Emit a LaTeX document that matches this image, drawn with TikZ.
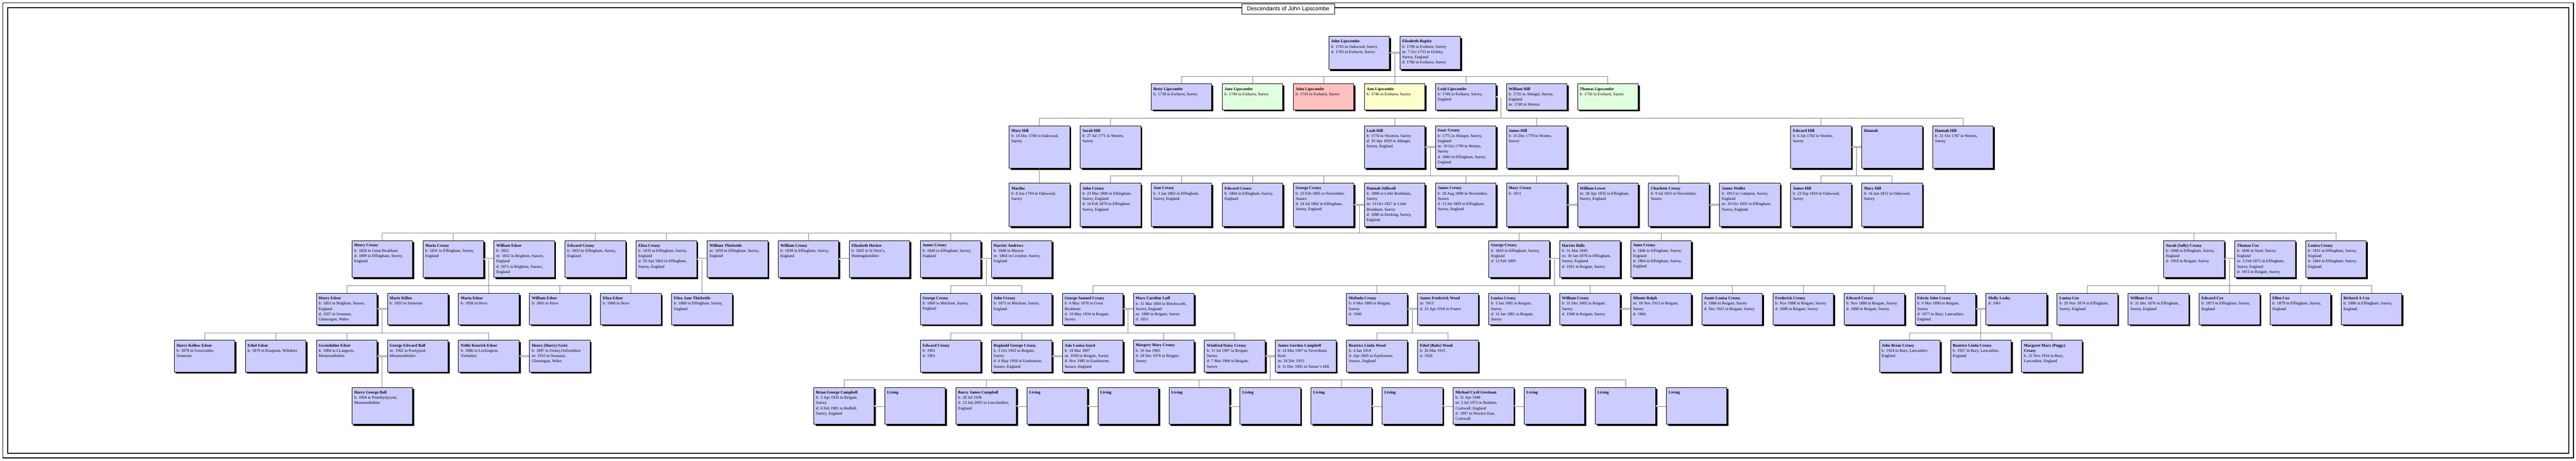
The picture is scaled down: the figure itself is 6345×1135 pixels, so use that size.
\documentclass[tikz,border=0pt]{standalone}
\usepackage{fontspec}
\setmainfont{Liberation Serif}
\setsansfont{Liberation Sans}
\usetikzlibrary{shadows, calc}
\definecolor{boxblue}{RGB}{204,204,255}
\definecolor{boxgreen}{RGB}{224,255,224}
\definecolor{boxpink}{RGB}{255,192,192}
\definecolor{boxyellow}{RGB}{255,255,204}
\definecolor{linegray}{RGB}{128,128,128}
\tikzset{
	person/.style={
		rectangle,
		anchor=north west,
		minimum width=149pt,
		minimum height=#1pt,
		inner sep=0pt,
		draw=black,
		line width=1.2pt,
		fill=boxblue,
		drop shadow={shadow xshift=4pt, shadow yshift=-4pt, fill=black, opacity=1}
	},
	info/.style={
		anchor=north west,
		align=left,
		inner xsep=6pt,
		inner ysep=9pt,
		font=\fontsize{10}{13}\selectfont
	},
	titlebox/.style={
		rectangle,
		minimum width=228pt,
		minimum height=26pt,
		inner sep=0pt,
		draw=black,
		line width=1.2pt,
		fill=white,
		font=\sffamily\fontsize{14}{16}\selectfont
	},
	chartframe/.style={draw=black, line width=2.3pt},
	link/.style={draw=linegray, line width=0.9pt},
	wed/.style={draw=linegray, line width=0.9pt, double=white, double distance=1.8pt}
}

\begin{document}
\begin{tikzpicture}[x=1pt, y=-1pt]
\useasboundingbox (0,0) rectangle (6345,1135);
\draw [chartframe] (7,7) rectangle (6339,1128);
\draw [chartframe] (19,19) rectangle (6327,1117);
\node (title) [titlebox] at (3173,22) {Descendants of John Lipscombe};

\begin{scope}[x=43.75pt, xshift=35pt]
\node[person=81, label={[info]north west:{\textbf{John Lipscombe}\\b: 1705 in Oakwood, Surrey\\d: 1783 in Ewhurst, Surrey}}] (jlipscombe) at (74,89) {};
\node[person=81, label={[info]north west:{\textbf{Elizabeth Rapley}\\b: 1709 in Ewhurst, Surrey\\m: 7 Oct 1733 in Ockley,\\Surrey, England\\d: 1760 in Ewhurst, Surrey}}] (erapley) at (78,89) {};

\node[person=64, label={[info]north west:{\textbf{Betty Lipscombe}\\b: 1738 in Ewhurst, Surrey}}] (blipscombe) at (64,206) {};
\node[person=64, fill=boxgreen, label={[info]north west:{\textbf{Jane Lipscombe}\\b: 1740 in Ewhurst, Surrey}}] (jalipscombe) at (68,206) {};
\node[person=64, fill=boxpink, label={[info]north west:{\textbf{John Lipscombe}\\b: 1743 in Ewhurst, Surrey}}] (jolipscombe) at (72,206) {};
\node[person=64, fill=boxyellow, label={[info]north west:{\textbf{Ann Lipscombe}\\b: 1746 in Ewhurst, Surrey}}] (alipscombe) at (76,206) {};
\node[person=64, label={[info]north west:{\textbf{Leah Lipscombe}\\b: 1748 in Ewhurst, Surrey,\\England}}] (llipscombe) at (80,206) {};
\node[person=64, label={[info]north west:{\textbf{William Hill}\\b: 1735 in Abinger, Surrey,\\England\\m: 1769 in Wotton}}] (whill) at (84,206) {};
\node[person=64, fill=boxgreen, label={[info]north west:{\textbf{Thomas Lipscombe}\\b: 1750 in Ewhurst, Surrey}}] (tlipscombe) at (88,206) {};

\node[person=105, label={[info]north west:{\textbf{Mary Hill}\\b: 10 Dec 1769 in Oakwood,\\Surrey}}] (mahill) at (56,309) {};
\node[person=105, label={[info]north west:{\textbf{Sarah Hill}\\b: 27 Jul 1771 in Wotten,\\Surrey}}] (sahill) at (60,309) {};
\node[person=105, label={[info]north west:{\textbf{Leah Hill}\\b: 1774 in Wootton, Surrey\\d: 19 Apr 1859 in Abinger,\\Surrey, England}}] (lehill) at (76,309) {};
\node[person=105, label={[info]north west:{\textbf{Isaac Creasy}\\b: 1775 in Abinger, Surrey,\\England\\m: 19 Oct 1799 in Wotten,\\Surrey\\d: 1840 in Effingham, Surrey,\\England}}] (icreasy) at (80,309) {};
\node[person=105, label={[info]north west:{\textbf{James Hill}\\b: 25 Dec 1779 in Wotten,\\Surrey}}] (jahill) at (84,309) {};
\node[person=105, label={[info]north west:{\textbf{Edward Hill}\\b: 6 Jan 1782 in Wotten,\\Surrey}}] (edhill) at (100,309) {};
\node[person=105, label={[info]north west:{\textbf{Hannah}}}] (hannah) at (104,309) {};
\node[person=105, label={[info]north west:{\textbf{Hannah Hill}\\b: 21 Oct 1787 in Wotten,\\Surrey}}] (hahill) at (108,309) {};

\node[person=106, label={[info]north west:{\textbf{Martha}\\b: 8 Jun 1794 in Oakwood,\\Surrey}}] (martha) at (56,451) {};
\node[person=106, label={[info]north west:{\textbf{John Creasy}\\b: 23 Mar 1800 in Effingham,\\Surrey, England\\d: 16 Feb 1870 in Effingham,\\Surrey, England}}] (jocreasy) at (60,451) {};
\node[person=106, label={[info]north west:{\textbf{Ann Creasy}\\b: 3 Jan 1802 in Effingham,\\Surrey, England}}] (ancreasy) at (64,451) {};
\node[person=106, label={[info]north west:{\textbf{Edward Creasy}\\b: 1804 in Effingham, Surrey,\\England}}] (edcreasy) at (68,451) {};
\node[person=106, label={[info]north west:{\textbf{George Creasy}\\b: 23 Feb 1805 in Newtimber,\\Sussex\\d: 24 Jul 1862 in Effingham,\\Surrey, England}}] (gecreasy) at (72,451) {};
\node[person=106, label={[info]north west:{\textbf{Hannah Stillwell}\\b: 1808 in Little Bookham,\\Surrey\\m: 14 Oct 1827 in Little\\Bookham, Surrey\\d: 1886 in Dorking, Surrey,\\England}}] (hstillwell) at (76,451) {};
\node[person=106, label={[info]north west:{\textbf{James Creasy}\\b: 28 Aug 1808 in Newtimber,\\Sussex\\d: 13 Jul 1829 in Effingham,\\Surrey, England}}] (jacreasy) at (80,451) {};
\node[person=106, label={[info]north west:{\textbf{Mary Creasy}\\b: 1811}}] (macreasy) at (84,451) {};
\node[person=106, label={[info]north west:{\textbf{William Lewer}\\m: 28 Apr 1832 in Effingham,\\Surrey, England}}] (wlewer) at (88,451) {};
\node[person=106, label={[info]north west:{\textbf{Charlotte Creasy}\\b: 9 Jul 1815 in Newtimber,\\Sussex}}] (chcreasy) at (92,451) {};
\node[person=106, label={[info]north west:{\textbf{James Waller}\\b: 1813 in Compton, Surrey,\\England\\m: 10 Oct 1835 in Effingham,\\Surrey, England}}] (jwaller) at (96,451) {};
\node[person=106, label={[info]north west:{\textbf{James Hill}\\b: 23 Sep 1810 in Oakwood,\\Surrey}}] (jahill2) at (100,451) {};
\node[person=106, label={[info]north west:{\textbf{Mary Hill}\\b: 16 Jun 1812 in Oakwood,\\Surrey}}] (mahill2) at (104,451) {};

\node[person=91, label={[info]north west:{\textbf{Henry Creasy}\\b: 1828 in Great Bookham\\d: 1889 in Effingham, Surrey,\\England}}] (hecreasy) at (19,592) {};
\node[person=91, label={[info]north west:{\textbf{Maria Creasy}\\b: 1831 in Effingham, Surrey,\\England}}] (mrcreasy) at (23,592) {};
\node[person=91, label={[info]north west:{\textbf{William Edsor}\\b: 1825\\m: 1852 in Brighton, Sussex,\\England\\d: 1871 in Brighton, Sussex,\\England}}] (wiedsor) at (27,592) {};
\node[person=91, label={[info]north west:{\textbf{Edward Creasy}\\b: 1833 in Effingham, Surrey,\\England}}] (edcreasy2) at (31,592) {};
\node[person=91, label={[info]north west:{\textbf{Eliza Creasy}\\b: 1835 in Effingham, Surrey,\\England\\d: 20 Apr 1862 in Effingham,\\Surrey, England}}] (elcreasy) at (35,592) {};
\node[person=91, label={[info]north west:{\textbf{William Thirkettle}\\m: 1859 in Effingham, Surrey,\\England}}] (wthirkettle) at (39,592) {};
\node[person=91, label={[info]north west:{\textbf{William Creasy}\\b: 1838 in Effingham, Surrey,\\England}}] (wicreasy) at (43,592) {};
\node[person=91, label={[info]north west:{\textbf{Elizabeth Hocker}\\b: 1843 in St Neot's,\\Huntingdonshire}}] (ehocker) at (47,592) {};
\node[person=91, label={[info]north west:{\textbf{James Creasy}\\b: 1840 in Effingham, Surrey,\\England}}] (jacreasy2) at (51,592) {};
\node[person=91, label={[info]north west:{\textbf{Harriet Andrews}\\b: 1840 in Merton\\m: 1864 in Croydon, Surrey,\\England}}] (handrews) at (55,592) {};
\node[person=91, label={[info]north west:{\textbf{George Creasy}\\b: 1843 in Effingham, Surrey,\\England\\d: 12 Feb 1893}}] (gecreasy2) at (83,592) {};
\node[person=91, label={[info]north west:{\textbf{Harriet Balls}\\b: 31 Mar 1849\\m: 30 Jan 1878 in Effingham,\\Surrey, England\\d: 1921 in Reigate, Surrey}}] (hballs) at (87,592) {};
\node[person=91, label={[info]north west:{\textbf{Anne Creasy}\\b: 1846 in Effingham, Surrey,\\England\\d: 1864 in Effingham, Surrey,\\England}}] (ancreasy2) at (91,592) {};
\node[person=91, label={[info]north west:{\textbf{Sarah (Sally) Creasy}\\b: 1848 in Effingham, Surrey,\\England\\d: 1918 in Reigate, Surrey}}] (sacreasy) at (121,592) {};
\node[person=91, label={[info]north west:{\textbf{Thomas Cox}\\b: 1846 in Send, Surrey,\\England\\m: 3 Feb 1872 in Effingham,\\Surrey, England\\d: 1915 in Reigate, Surrey}}] (thcox) at (125,592) {};
\node[person=91, label={[info]north west:{\textbf{Louisa Creasy}\\b: 1851 in Effingham, Surrey,\\England\\d: 1864 in Effingham, Surrey,\\England}}] (locreasy) at (129,592) {};

\node[person=77, label={[info]north west:{\textbf{Henry Edsor}\\b: 1855 in Brighton, Sussex,\\England\\d: 1927 in Swansea,\\Glamorgan, Wales}}] (heedsor) at (17,722) {};
\node[person=77, label={[info]north west:{\textbf{Marie Killen}\\b: 1855 in Somerset}}] (mkillen) at (21,722) {};
\node[person=77, label={[info]north west:{\textbf{Maria Edsor}\\b: 1858 in Hove}}] (maedsor) at (25,722) {};
\node[person=77, label={[info]north west:{\textbf{William Edsor}\\b: 1865 in Hove}}] (wiedsor2) at (29,722) {};
\node[person=77, label={[info]north west:{\textbf{Eliza Edsor}\\b: 1868 in Hove}}] (eledsor) at (33,722) {};
\node[person=77, label={[info]north west:{\textbf{Eliza Jane Thirkettle}\\b: 1860 in Effingham, Surrey,\\England}}] (ejthirkettle) at (37,722) {};
\node[person=77, label={[info]north west:{\textbf{George Creasy}\\b: 1869 in Mitcham, Surrey,\\England}}] (gecreasy3) at (51,722) {};
\node[person=77, label={[info]north west:{\textbf{John Creasy}\\b: 1871 in Mitcham, Surrey,\\England}}] (jocreasy2) at (55,722) {};
\node[person=77, label={[info]north west:{\textbf{George Samuel Creasy}\\b: 6 May 1878 in Great\\Bookham\\d: 10 May 1934 in Reigate,\\Surrey}}] (gscreasy) at (59,722) {};
\node[person=77, label={[info]north west:{\textbf{Mary Caroline Luff}\\b: 31 Mar 1869 in Betchworth,\\Surrey, England\\m: 1900 in Reigate, Surrey\\d: 1951}}] (mcluff) at (63,722) {};
\node[person=77, label={[info]north west:{\textbf{Melinda Creasy}\\b: 6 Mar 1880 in Reigate,\\Surrey\\d: 1940}}] (mecreasy) at (75,722) {};
\node[person=77, label={[info]north west:{\textbf{James Frederick Wood}\\m: 1913\\d: 22 Apr 1918 in France}}] (jfwood) at (79,722) {};
\node[person=77, label={[info]north west:{\textbf{Louisa Creasy}\\b: 3 Jan 1881 in Reigate,\\Surrey\\d: 12 Jan 1881 in Reigate,\\Surrey}}] (locreasy2) at (83,722) {};
\node[person=77, label={[info]north west:{\textbf{William Creasy}\\b: 31 Dec 1882 in Reigate,\\Surrey\\d: 1948 in Reigate, Surrey}}] (wicreasy2) at (87,722) {};
\node[person=77, label={[info]north west:{\textbf{Minnie Rolph}\\m: 18 Nov 1913 in Reigate,\\Surrey\\d: 1966}}] (mrolph) at (91,722) {};
\node[person=77, label={[info]north west:{\textbf{Annie Louisa Creasy}\\b: 1886 in Reigate, Surrey\\d: Dec 1921 in Reigate, Surrey}}] (alcreasy) at (95,722) {};
\node[person=77, label={[info]north west:{\textbf{Frederick Creasy}\\b: Nov 1888 in Reigate, Surrey\\d: 1888 in Reigate, Surrey}}] (frcreasy) at (99,722) {};
\node[person=77, label={[info]north west:{\textbf{Edward Creasy}\\b: Nov 1888 in Reigate, Surrey\\d: 1888 in Reigate, Surrey}}] (edcreasy3) at (103,722) {};
\node[person=77, label={[info]north west:{\textbf{Edwin John Creasy}\\b: 6 Mar 1890 in Reigate,\\Surrey\\d: 1977 in Bury, Lancashire,\\England}}] (ejcreasy) at (107,722) {};
\node[person=77, label={[info]north west:{\textbf{Molly Leahy}\\d: 1961}}] (mleahy) at (111,722) {};
\node[person=77, label={[info]north west:{\textbf{Louisa Cox}\\b: 29 Nov 1874 in Effingham,\\Surrey, England}}] (locox) at (115,722) {};
\node[person=77, label={[info]north west:{\textbf{William Cox}\\b: 31 Dec 1876 in Effingham,\\Surrey, England}}] (wicox) at (119,722) {};
\node[person=77, label={[info]north west:{\textbf{Edward Cox}\\b: 1873 in Effingham, Surrey,\\England}}] (edcox) at (123,722) {};
\node[person=77, label={[info]north west:{\textbf{Ellen Cox}\\b: 1879 in Effingham, Surrey,\\England}}] (elcox) at (127,722) {};
\node[person=77, label={[info]north west:{\textbf{Richard A Cox}\\b: 1888 in Effingham, Surrey,\\England}}] (racox) at (131,722) {};

\node[person=78, label={[info]north west:{\textbf{Harry Kellow Edsor}\\b: 1878 in Groscombe,\\Somerset}}] (hkedsor) at (9,838) {};
\node[person=78, label={[info]north west:{\textbf{Ethel Edsor}\\b: 1879 in Kingston, Wiltshire}}] (etedsor) at (13,838) {};
\node[person=78, label={[info]north west:{\textbf{Gwendoline Edsor}\\b: 1884 in LLangwm,\\Monmouthshire}}] (gwedsor) at (17,838) {};
\node[person=78, label={[info]north west:{\textbf{George Edward Ball}\\m: 1902 in Pontypool,\\Monmouthshire}}] (geball) at (21,838) {};
\node[person=78, label={[info]north west:{\textbf{Nellie Kenrick Edsor}\\b: 1886 in Lockington,\\Yorkshire}}] (nkedsor) at (25,838) {};
\node[person=78, label={[info]north west:{\textbf{Henry (Harry) Grist}\\b: 1887 in Oxney,Oxfordshire\\m: 1915 in Swansea,\\Glamorgan, Wales}}] (hgrist) at (29,838) {};
\node[person=78, label={[info]north west:{\textbf{Edward Creasy}\\b: 1901\\d: 1901}}] (edcreasy4) at (51,838) {};
\node[person=78, label={[info]north west:{\textbf{Reginald George Creasy}\\b: 3 Oct 1902 in Reigate,\\Surrey\\d: 6 May 1956 in Eastbourne,\\Sussex, England}}] (rgcreasy) at (55,838) {};
\node[person=78, label={[info]north west:{\textbf{Ada Louisa Izard}\\b: 18 Mar 1897\\m: 1930 in Reigate, Surrey\\d: Nov 1985 in Eastbourne,\\Sussex, England}}] (alizard) at (59,838) {};
\node[person=78, label={[info]north west:{\textbf{Margery Mary Creasy}\\b: 16 Jun 1905\\d: 28 Dec 1976 in Reigate,\\Surrey}}] (mmcreasy) at (63,838) {};
\node[person=78, label={[info]north west:{\textbf{Winifred Daisy Creasy}\\b: 11 Jul 1907 in Reigate,\\Surrey\\d: 7 Mar 1960 in Reigate,\\Surrey}}] (wdcreasy) at (67,838) {};
\node[person=78, label={[info]north west:{\textbf{James Gordon Campbell}\\b: 14 Mar 1907 in Faversham,\\Kent\\m: 24 Dec 1933\\d: 11 Dec 1981 in Turner's Hill}}] (jgcampbell) at (71,838) {};
\node[person=78, label={[info]north west:{\textbf{Beatrice Linda Wood}\\b: 4 Jan 1914\\d: Apr 2005 in Eastbourne,\\Sussex, England}}] (blwood) at (75,838) {};
\node[person=78, label={[info]north west:{\textbf{Ethel (Babs) Wood}\\b: 26 Mar 1915\\d: 1920}}] (ebwood) at (79,838) {};
\node[person=78, label={[info]north west:{\textbf{John Brian Creasy}\\b: 1924 in Bury, Lancashire,\\England}}] (jbcreasy) at (105,838) {};
\node[person=78, label={[info]north west:{\textbf{Beatrice Linda Creasy}\\b: 1927 in Bury, Lancashire,\\England}}] (blcreasy) at (109,838) {};
\node[person=78, label={[info]north west:{\textbf{Margaret Mary (Peggy)}\\\textbf{Creasy}\\b: 22 Nov 1916 in Bury,\\Lancashire, England}}] (mmpcreasy) at (113,838) {};

\node[person=91, label={[info]north west:{\textbf{Harry George Ball}\\b: 1904 in Pontrhydyrynn,\\Monmouthshire}}] (hgball) at (19,954) {};
\node[person=91, label={[info]north west:{\textbf{Brian George Campbell}\\b: 3 Apr 1935 in Reigate,\\Surrey\\d: 6 Feb 1981 in Redhill,\\Surrey, England}}] (bgcampbell) at (45,954) {};
\node[person=91, label={[info]north west:{\textbf{Living}}}] (living1) at (49,954) {};
\node[person=91, label={[info]north west:{\textbf{Barry James Campbell}\\b: 28 Jul 1938\\d: 23 Jun 2005 in Lincolnshire,\\England}}] (bjcampbell) at (53,954) {};
\node[person=91, label={[info]north west:{\textbf{Living}}}] (living2) at (57,954) {};
\node[person=91, label={[info]north west:{\textbf{Living}}}] (living3) at (61,954) {};
\node[person=91, label={[info]north west:{\textbf{Living}}}] (living4) at (65,954) {};
\node[person=91, label={[info]north west:{\textbf{Living}}}] (living5) at (69,954) {};
\node[person=91, label={[info]north west:{\textbf{Living}}}] (living6) at (73,954) {};
\node[person=91, label={[info]north west:{\textbf{Living}}}] (living7) at (77,954) {};
\node[person=91, label={[info]north west:{\textbf{Michael Cyril Gresham}\\b: 21 Apr 1940\\m: 3 Jul 1973 in Bodmin,\\Cornwall, England\\d: 1997 in Newlyn East,\\Cornwall}}] (mcgresham) at (81,954) {};
\node[person=91, label={[info]north west:{\textbf{Living}}}] (living8) at (85,954) {};
\node[person=91, label={[info]north west:{\textbf{Living}}}] (living9) at (89,954) {};
\node[person=91, label={[info]north west:{\textbf{Living}}}] (living10) at (93,954) {};
\end{scope}

\coordinate (jl-er) at ($(jlipscombe.east)!0.5!(erapley.west)$);
\coordinate (ll-wh) at ($(llipscombe.east)!0.5!(whill.west)$);
\coordinate (lh-ic) at ($(lehill.east)!0.5!(icreasy.west)$);
\coordinate (eh-ha) at ($(edhill.east)!0.5!(hannah.west)$);
\coordinate (gc-hs) at ($(gecreasy.east)!0.5!(hstillwell.west)$);
\coordinate (mc-we) at ($(mrcreasy.east)!0.5!(wiedsor.west)$);
\coordinate (ec-wt) at ($(elcreasy.east)!0.5!(wthirkettle.west)$);
\coordinate (jc-ha) at ($(jacreasy2.east)!0.5!(handrews.west)$);
\coordinate (gc-hb) at ($(gecreasy2.east)!0.5!(hballs.west)$);
\coordinate (sc-tc) at ($(sacreasy.east)!0.5!(thcox.west)$);
\coordinate (he-mk) at ($(heedsor.east)!0.5!(mkillen.west)$);
\coordinate (gs-ml) at ($(gscreasy.east)!0.5!(mcluff.west)$);
\coordinate (mc-jw) at ($(mecreasy.east)!0.5!(jfwood.west)$);
\coordinate (ej-ml) at ($(ejcreasy.east)!0.5!(mleahy.west)$);
\coordinate (ge-gb) at ($(gwedsor.east)!0.5!(geball.west)$);
\coordinate (wd-jg) at ($(wdcreasy.east)!0.5!(jgcampbell.west)$);

\draw [link] (jl-er) |- ([yshift=18pt]blipscombe.north) -- (blipscombe.north);
\draw [link] (jl-er) |- ([yshift=18pt]jalipscombe.north) -- (jalipscombe.north);
\draw [link] (jl-er) |- ([yshift=18pt]jolipscombe.north) -- (jolipscombe.north);
\draw [link] (jl-er) |- ([yshift=18pt]alipscombe.north) -- (alipscombe.north);
\draw [link] (jl-er) |- ([yshift=18pt]llipscombe.north) -- (llipscombe.north);
\draw [link] (jl-er) |- ([yshift=18pt]tlipscombe.north) -- (tlipscombe.north);

\draw [link] (ll-wh) |- ([yshift=18pt]mahill.north) -- (mahill.north);
\draw [link] (ll-wh) |- ([yshift=18pt]sahill.north) -- (sahill.north);
\draw [link] (ll-wh) |- ([yshift=18pt]lehill.north) -- (lehill.north);
\draw [link] (ll-wh) |- ([yshift=18pt]jahill.north) -- (jahill.north);
\draw [link] (ll-wh) |- ([yshift=18pt]edhill.north) -- (edhill.north);
\draw [link] (ll-wh) |- ([yshift=18pt]hahill.north) -- (hahill.north);

\draw [link] (mahill.south) -- (martha.north);
\draw [link] (lh-ic) |- ([yshift=18pt]jocreasy.north) -- (jocreasy.north);
\draw [link] (lh-ic) |- ([yshift=18pt]ancreasy.north) -- (ancreasy.north);
\draw [link] (lh-ic) |- ([yshift=18pt]edcreasy.north) -- (edcreasy.north);
\draw [link] (lh-ic) |- ([yshift=18pt]gecreasy.north) -- (gecreasy.north);
\draw [link] (lh-ic) |- ([yshift=18pt]jacreasy.north) -- (jacreasy.north);
\draw [link] (lh-ic) |- ([yshift=18pt]macreasy.north) -- (macreasy.north);
\draw [link] (lh-ic) |- ([yshift=18pt]chcreasy.north) -- (chcreasy.north);
\draw [link] (eh-ha) |- ([yshift=18pt]jahill2.north) -- (jahill2.north);
\draw [link] (eh-ha) |- ([yshift=18pt]mahill2.north) -- (mahill2.north);

\draw [link] (gc-hs) |- ([yshift=18pt]hecreasy.north) -- (hecreasy.north);
\draw [link] (gc-hs) |- ([yshift=18pt]mrcreasy.north) -- (mrcreasy.north);
\draw [link] (gc-hs) |- ([yshift=18pt]edcreasy2.north) -- (edcreasy2.north);
\draw [link] (gc-hs) |- ([yshift=18pt]elcreasy.north) -- (elcreasy.north);
\draw [link] (gc-hs) |- ([yshift=18pt]wicreasy.north) -- (wicreasy.north);
\draw [link] (gc-hs) |- ([yshift=18pt]jacreasy2.north) -- (jacreasy2.north);
\draw [link] (gc-hs) |- ([yshift=18pt]gecreasy2.north) -- (gecreasy2.north);
\draw [link] (gc-hs) |- ([yshift=18pt]ancreasy2.north) -- (ancreasy2.north);
\draw [link] (gc-hs) |- ([yshift=18pt]sacreasy.north) -- (sacreasy.north);
\draw [link] (gc-hs) |- ([yshift=18pt]locreasy.north) -- (locreasy.north);

\draw [link] (mc-we) |- ([yshift=18pt]heedsor.north) -- (heedsor.north);
\draw [link] (mc-we) |- ([yshift=18pt]maedsor.north) -- (maedsor.north);
\draw [link] (mc-we) |- ([yshift=18pt]wiedsor2.north) -- (wiedsor2.north);
\draw [link] (mc-we) |- ([yshift=18pt]eledsor.north) -- (eledsor.north);
\draw [link] (ec-wt) |- ([yshift=18pt]ejthirkettle.north) -- (ejthirkettle.north);
\draw [link] (jc-ha) |- ([yshift=18pt]gecreasy3.north) -- (gecreasy3.north);
\draw [link] (jc-ha) |- ([yshift=18pt]jocreasy2.north) -- (jocreasy2.north);
\draw [link] (gc-hb) |- ([yshift=18pt]gscreasy.north) -- (gscreasy.north);
\draw [link] (gc-hb) |- ([yshift=18pt]mecreasy.north) -- (mecreasy.north);
\draw [link] (gc-hb) |- ([yshift=18pt]locreasy2.north) -- (locreasy2.north);
\draw [link] (gc-hb) |- ([yshift=18pt]wicreasy2.north) -- (wicreasy2.north);
\draw [link] (gc-hb) |- ([yshift=18pt]alcreasy.north) -- (alcreasy.north);
\draw [link] (gc-hb) |- ([yshift=18pt]frcreasy.north) -- (frcreasy.north);
\draw [link] (gc-hb) |- ([yshift=18pt]edcreasy3.north) -- (edcreasy3.north);
\draw [link] (gc-hb) |- ([yshift=18pt]ejcreasy.north) -- (ejcreasy.north);
\draw [link] (sc-tc) |- ([yshift=18pt]locox.north) -- (locox.north);
\draw [link] (sc-tc) |- ([yshift=18pt]wicox.north) -- (wicox.north);
\draw [link] (sc-tc) |- ([yshift=18pt]edcox.north) -- (edcox.north);
\draw [link] (sc-tc) |- ([yshift=18pt]elcox.north) -- (elcox.north);
\draw [link] (sc-tc) |- ([yshift=18pt]racox.north) -- (racox.north);

\draw [link] (he-mk) |- ([yshift=18pt]hkedsor.north) -- (hkedsor.north);
\draw [link] (he-mk) |- ([yshift=18pt]etedsor.north) -- (etedsor.north);
\draw [link] (he-mk) |- ([yshift=18pt]gwedsor.north) -- (gwedsor.north);
\draw [link] (he-mk) |- ([yshift=18pt]nkedsor.north) -- (nkedsor.north);
\draw [link] (gs-ml) |- ([yshift=18pt]edcreasy4.north) -- (edcreasy4.north);
\draw [link] (gs-ml) |- ([yshift=18pt]rgcreasy.north) -- (rgcreasy.north);
\draw [link] (gs-ml) |- ([yshift=18pt]mmcreasy.north) -- (mmcreasy.north);
\draw [link] (gs-ml) |- ([yshift=18pt]wdcreasy.north) -- (wdcreasy.north);
\draw [link] (mc-jw) |- ([yshift=18pt]blwood.north) -- (blwood.north);
\draw [link] (mc-jw) |- ([yshift=18pt]ebwood.north) -- (ebwood.north);
\draw [link] (ej-ml) |- ([yshift=18pt]jbcreasy.north) -- (jbcreasy.north);
\draw [link] (ej-ml) |- ([yshift=18pt]blcreasy.north) -- (blcreasy.north);
\draw [link] (ej-ml) |- ([yshift=18pt]mmpcreasy.north) -- (mmpcreasy.north);

\draw [link] (ge-gb) |- ([yshift=18pt]hgball.north) -- (hgball.north);
\draw [link] (wd-jg) |- ([yshift=18pt]bgcampbell.north) -- (bgcampbell.north);
\draw [link] (wd-jg) |- ([yshift=18pt]bjcampbell.north) -- (bjcampbell.north);
\draw [link] (wd-jg) |- ([yshift=18pt]living4.north) -- (living4.north);
\draw [link] (wd-jg) |- ([yshift=18pt]living6.north) -- (living6.north);
\draw [link] (wd-jg) |- ([yshift=18pt]living9.north) -- (living9.north);

\draw [wed] (jlipscombe.east) -- (erapley.west);
\draw [wed] (llipscombe.east) -- (whill.west);
\draw [wed] (lehill.east) -- (icreasy.west);
\draw [wed] (edhill.east) -- (hannah.west);
\draw [wed] (gecreasy.east) -- (hstillwell.west);
\draw [wed] (macreasy.east) -- (wlewer.west);
\draw [wed] (chcreasy.east) -- (jwaller.west);
\draw [wed] (mrcreasy.east) -- (wiedsor.west);
\draw [wed] (elcreasy.east) -- (wthirkettle.west);
\draw [wed] (wicreasy.east) -- (ehocker.west);
\draw [wed] (jacreasy2.east) -- (handrews.west);
\draw [wed] (gecreasy2.east) -- (hballs.west);
\draw [wed] (sacreasy.east) -- (thcox.west);
\draw [wed] (heedsor.east) -- (mkillen.west);
\draw [wed] (gscreasy.east) -- (mcluff.west);
\draw [wed] (mecreasy.east) -- (jfwood.west);
\draw [wed] (wicreasy2.east) -- (mrolph.west);
\draw [wed] (ejcreasy.east) -- (mleahy.west);
\draw [wed] (gwedsor.east) -- (geball.west);
\draw [wed] (nkedsor.east) -- (hgrist.west);
\draw [wed] (rgcreasy.east) -- (alizard.west);
\draw [wed] (wdcreasy.east) -- (jgcampbell.west);
\draw [wed] (bgcampbell.east) -- (living1.west);
\draw [wed] (bjcampbell.east) -- (living2.west);
\draw [wed] (living2.east) -- (living3.west);
\draw [wed] (living4.east) -- (living5.west);
\draw [wed] (living6.east) -- (living7.west);
\draw [wed] (living7.east) -- (mcgresham.west);
\draw [wed] (mcgresham.east) -- (living8.west);
\draw [wed] (living9.east) -- (living10.west);
\end{tikzpicture}
\end{document}
